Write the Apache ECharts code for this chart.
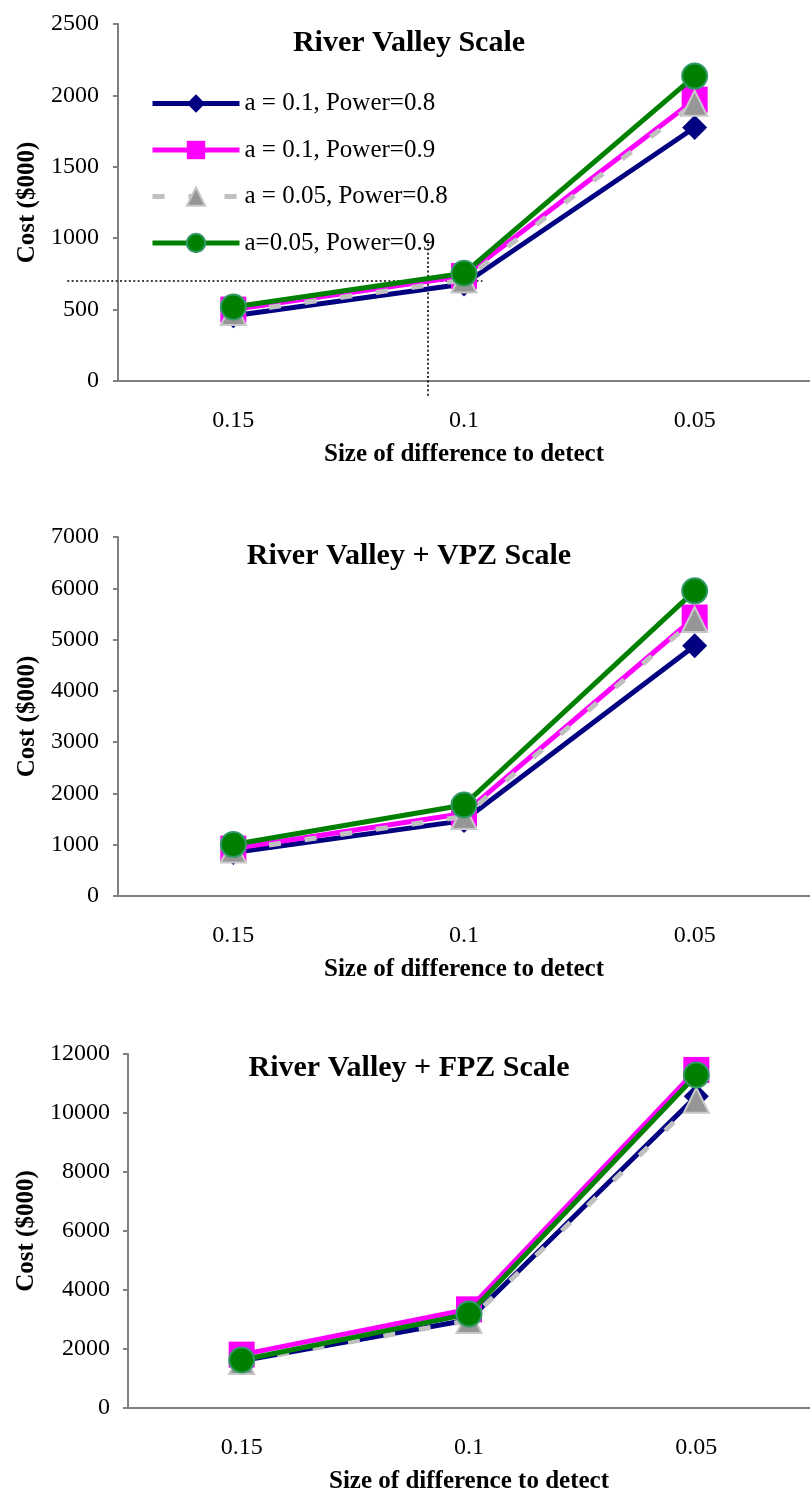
<!DOCTYPE html>
<html>
<head>
<meta charset="utf-8">
<script src="https://cdn.jsdelivr.net/npm/echarts@6/dist/echarts.min.js"></script>
<style>
  html, body { margin: 0; padding: 0; background: #ffffff; }
  #chart { width: 810px; height: 1495px; }
</style>
</head>
<body>
<div id="chart"></div>
<script>
// Size of difference to detect (categories shared by all three panels)
const categories = ['0.15', '0.1', '0.05'];

// Series names
const seriesNames = ['a = 0.1, Power=0.8', 'a = 0.1, Power=0.9', 'a = 0.05, Power=0.8', 'a=0.05, Power=0.9'];

// Panel titles
const panelTitles = ['River Valley Scale', 'River Valley + VPZ Scale', 'River Valley + FPZ Scale'];

// Cost ($000) — River Valley scale
const rvA10P80 = [457, 679, 1775];
const rvA10P90 = [500, 735, 1970];
const rvA05P80 = [480, 707, 1945];
const rvA05P90 = [518, 754, 2135];

// Cost ($000) — River Valley + VPZ scale
const vpzA10P80 = [850, 1470, 4880];
const vpzA10P90 = [925, 1610, 5430];
const vpzA05P80 = [895, 1550, 5390];
const vpzA05P90 = [1005, 1775, 5950];

// Cost ($000) — River Valley + FPZ scale
const fpzA10P80 = [1600, 2990, 10570];
const fpzA10P90 = [1810, 3345, 11460];
const fpzA05P80 = [1580, 2965, 10430];
const fpzA05P90 = [1625, 3190, 11290];

// Y-axis ranges per panel
const yMax = [2500, 7000, 12000];
const yStep = [500, 1000, 2000];

// Budget reference on the first panel (cost, and where it crosses between categories)
const budgetCost = 700;
const budgetCrossPos = 0.844;
const budgetLineFrom = -0.72;
const budgetLineTo = 1.08;
const budgetDropTop = 990;
const budgetDropBottom = -110;

const FONT = "'Liberation Serif', 'Times New Roman', serif";

const panelData = [
  [rvA10P80, rvA10P90, rvA05P80, rvA05P90],
  [vpzA10P80, vpzA10P90, vpzA05P80, vpzA05P90],
  [fpzA10P80, fpzA10P90, fpzA05P80, fpzA05P90]
];

const styles = [
  { line: { color: '#000080', width: 5, type: 'solid' }, symbol: 'diamond', size: 25,
    item: { color: '#000080' } },
  { line: { color: '#FF00FF', width: 5, type: 'solid' }, symbol: 'rect', size: 26,
    item: { color: '#FF00FF' } },
  { line: { color: '#C0C0C0', width: 5, type: [12, 24] }, symbol: 'triangle', size: 25,
    item: { color: '#969696', borderColor: '#C8C8C8', borderWidth: 2 } },
  { line: { color: '#008000', width: 5, type: 'solid' }, symbol: 'circle', size: 25,
    item: { color: '#008000', borderColor: '#339966', borderWidth: 2 } }
];

const grids = [
  { left: 118, top: 24, width: 700, height: 357 },
  { left: 118, top: 537, width: 700, height: 359 },
  { left: 128, top: 1054, width: 692, height: 358 }
];

const titleTops = [43, 556, 1068];

const axisLineStyle = { color: '#808080', width: 2 };

const xAxes = grids.map((g, i) => ({
  type: 'category',
  gridIndex: i,
  data: categories,
  boundaryGap: true,
  axisLine: { lineStyle: axisLineStyle },
  axisTick: { length: 8, lineStyle: axisLineStyle },
  axisLabel: { color: '#000', fontFamily: FONT, fontSize: 24, margin: 28 },
  name: 'Size of difference to detect',
  nameLocation: 'middle',
  nameGap: 61,
  nameTextStyle: { color: '#000', fontFamily: FONT, fontSize: 25, fontWeight: 'bold' },
  splitLine: { show: false }
}));

const yAxes = grids.map((g, i) => ({
  type: 'value',
  gridIndex: i,
  min: 0,
  max: yMax[i],
  interval: yStep[i],
  axisLine: { show: true, lineStyle: axisLineStyle },
  axisTick: { show: true, length: 5, lineStyle: axisLineStyle },
  axisLabel: {
    color: '#000', fontFamily: FONT, fontSize: 24, margin: i === 2 ? 18 : 19,
    formatter: v => String(v)
  },
  splitLine: { show: false },
  name: 'Cost ($000)',
  nameLocation: 'middle',
  nameGap: i === 2 ? 79 : 69,
  nameTextStyle: { color: '#000', fontFamily: FONT, fontSize: 25, fontWeight: 'bold' }
}));

const series = [];
panelData.forEach((arrs, gi) => {
  arrs.forEach((vals, si) => {
    const st = styles[si];
    series.push({
      name: seriesNames[si],
      type: 'line',
      xAxisIndex: gi,
      yAxisIndex: gi,
      data: vals,
      symbol: st.symbol,
      symbolSize: st.size,
      showAllSymbol: true,
      lineStyle: st.line,
      itemStyle: st.item,
      emphasis: { disabled: true },
      animation: false,
      clip: false,
      z: 2 + si
    });
  });
});

const chart = echarts.init(document.getElementById('chart'), null, { renderer: 'canvas' });

chart.setOption({
  backgroundColor: '#ffffff',
  animation: false,
  grid: grids,
  xAxis: xAxes,
  yAxis: yAxes,
  legend: {
    data: seriesNames,
    orient: 'vertical',
    left: 150,
    top: 91,
    padding: 0,
    itemWidth: 87,
    itemHeight: 23,
    itemGap: 21.5,
    selectedMode: false,
    lineStyle: { width: 5 },
    textStyle: { color: '#000', fontFamily: FONT, fontSize: 25, lineHeight: 25 }
  },
  series: series
});

// Panel titles and the budget reference lines on the first panel
function px(catPos, value) {
  const a = chart.convertToPixel({ gridIndex: 0 }, [0, value]);
  const b = chart.convertToPixel({ gridIndex: 0 }, [1, value]);
  return [a[0] + (b[0] - a[0]) * catPos, a[1]];
}

const hFrom = px(budgetLineFrom, budgetCost);
const hTo = px(budgetLineTo, budgetCost);
const vTop = px(budgetCrossPos, budgetDropTop);
const vBottom = px(budgetCrossPos, budgetDropBottom);

const dotted = { stroke: '#000', lineWidth: 1.6, lineDash: [2, 2.4] };

const graphics = panelTitles.map((t, i) => ({
  type: 'text',
  x: 409,
  y: titleTops[i],
  style: {
    text: t,
    fill: '#000',
    font: 'bold 30px ' + FONT,
    align: 'center',
    verticalAlign: 'middle'
  },
  z: 10
}));

graphics.push({
  type: 'line',
  shape: { x1: hFrom[0], y1: hFrom[1], x2: hTo[0], y2: hTo[1] },
  style: dotted,
  z: 1
});
graphics.push({
  type: 'line',
  shape: { x1: vTop[0], y1: vTop[1], x2: vBottom[0], y2: vBottom[1] },
  style: dotted,
  z: 1
});

chart.setOption({ graphic: graphics });
</script>
</body>
</html>
